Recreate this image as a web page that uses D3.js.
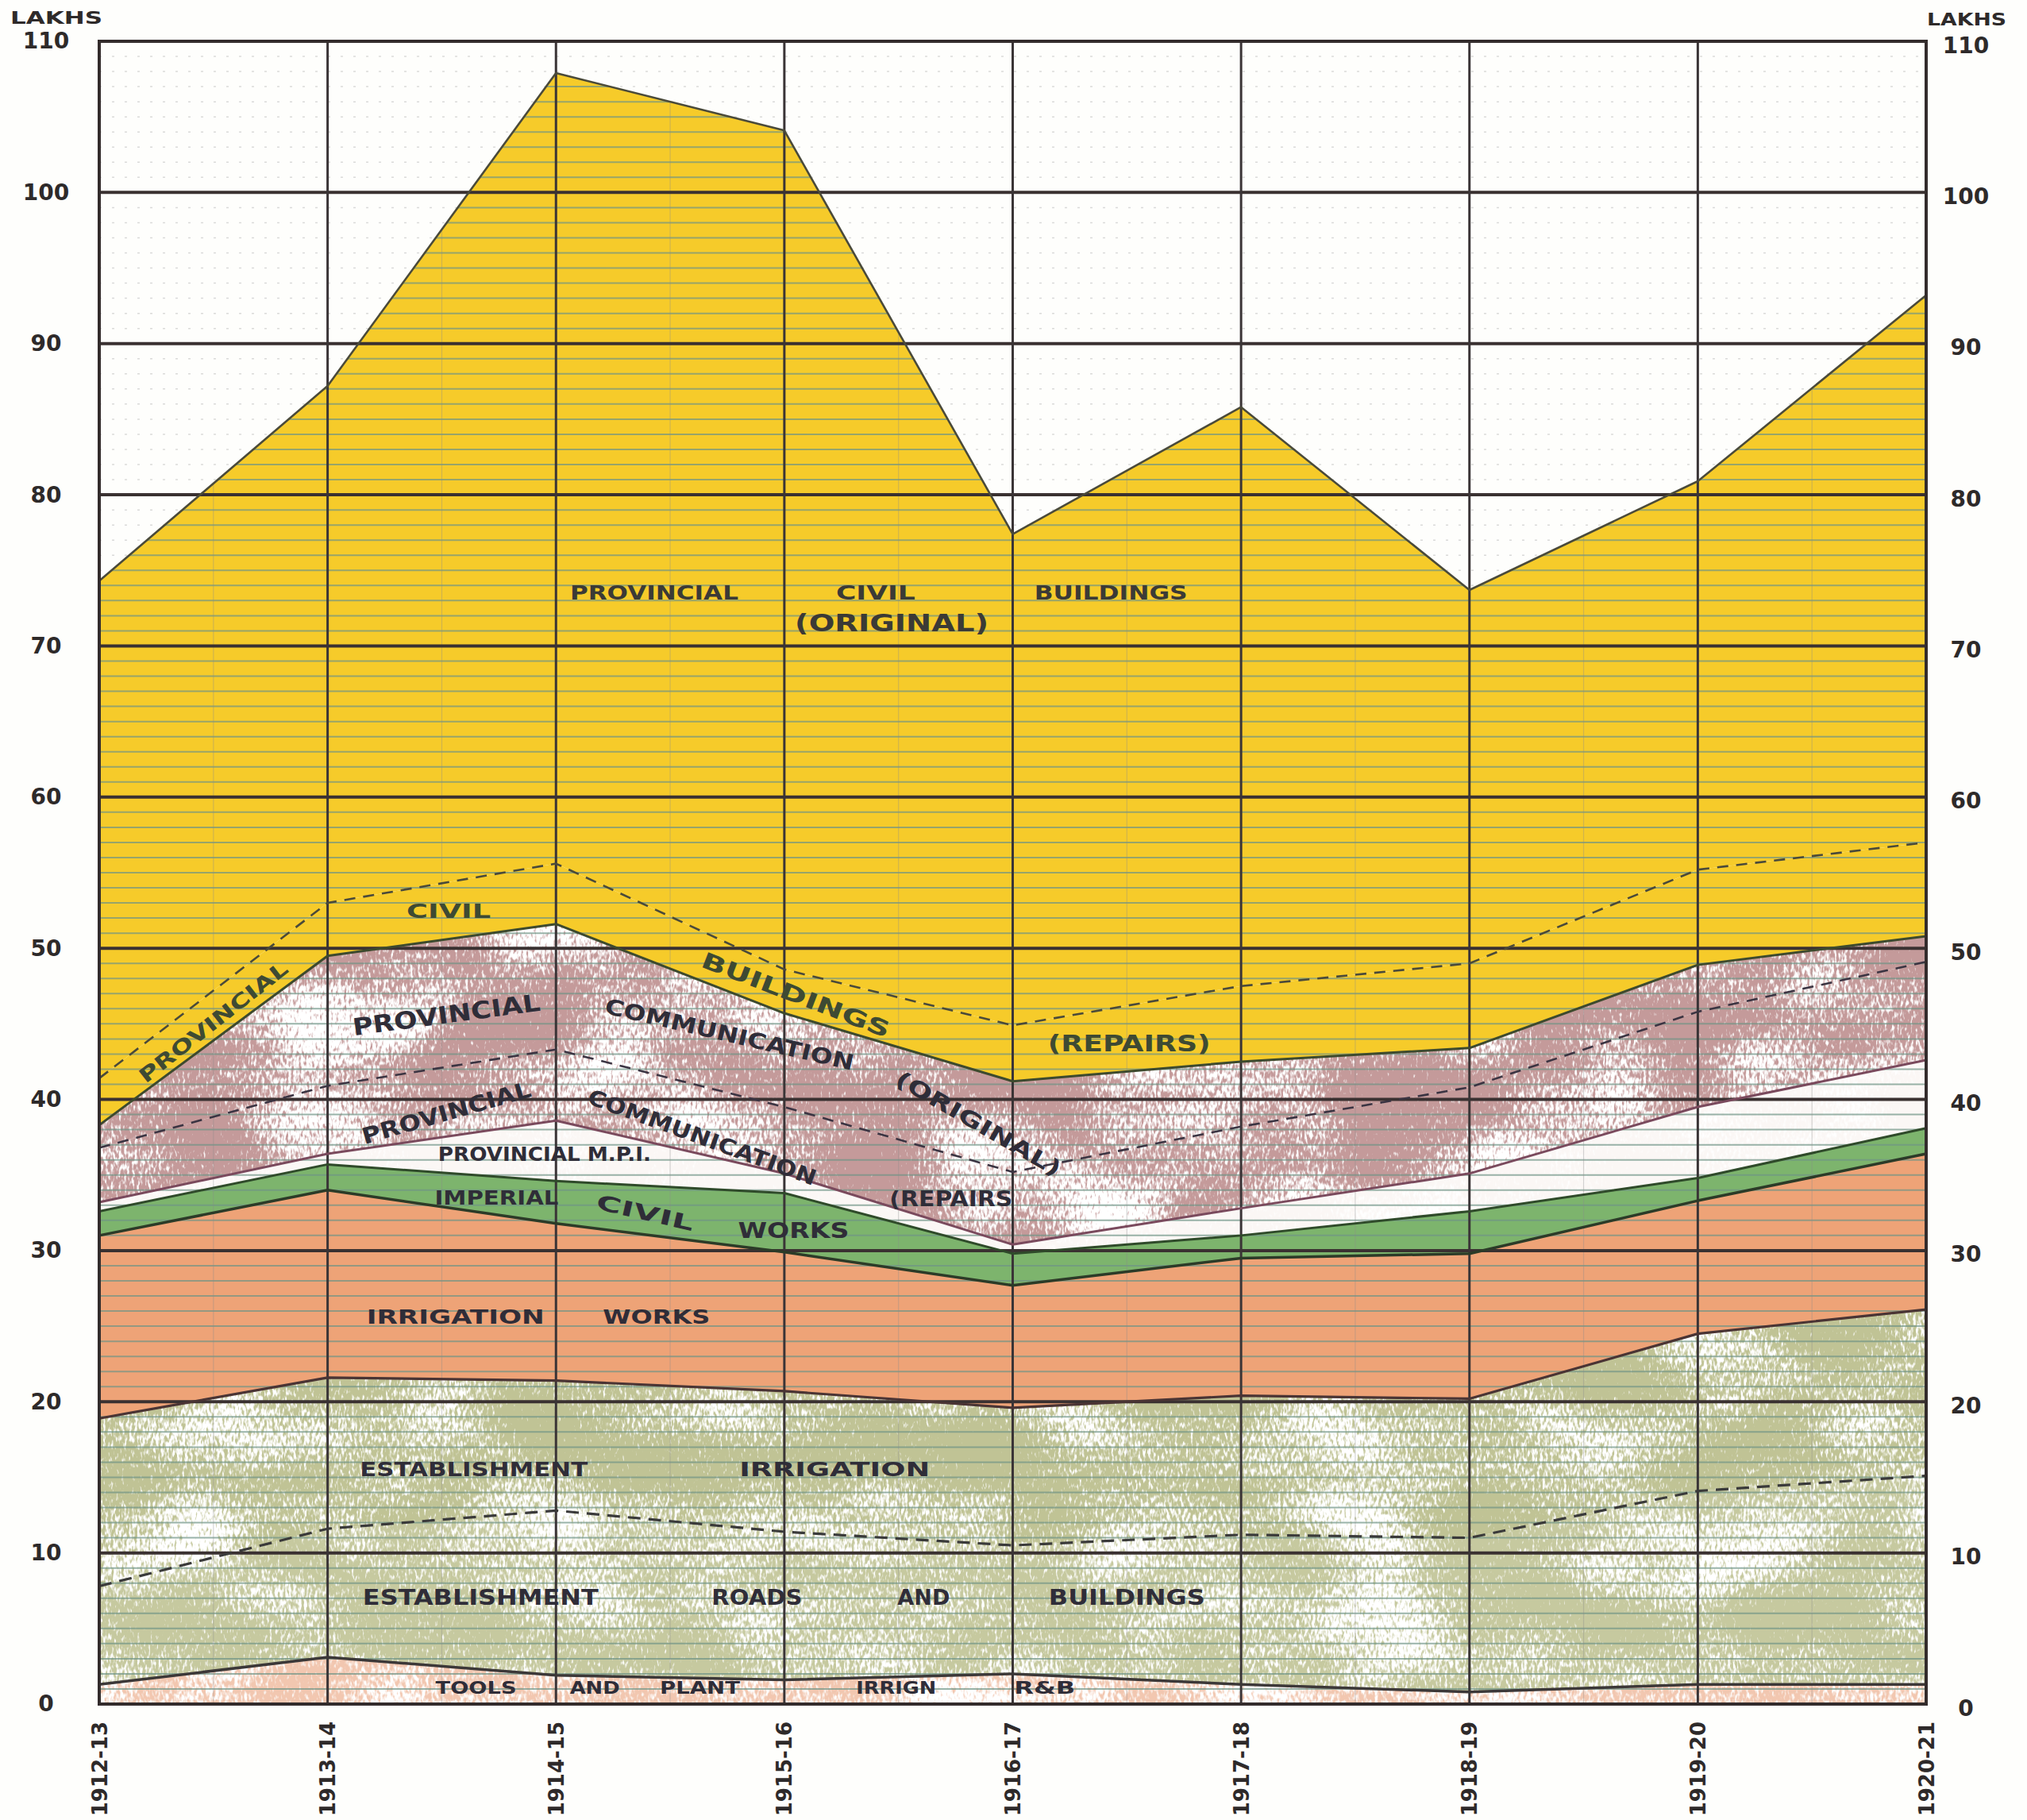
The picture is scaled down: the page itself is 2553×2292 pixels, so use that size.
<!DOCTYPE html>
<html>
<head>
<meta charset="utf-8">
<script src="https://cdn.jsdelivr.net/npm/d3@7/dist/d3.min.js"></script>
<style>
  html, body { margin: 0; padding: 0; background: #fefefc; }
  svg { display: block; }
  text { font-family: "DejaVu Sans", "Liberation Sans", sans-serif; }
</style>
</head>
<body>
<svg id="chart" width="2553" height="2292"></svg>
<script>
// ---------------- DATA (Lakhs of rupees) ----------------
const years = ["1912-13","1913-14","1914-15","1915-16","1916-17","1917-18","1918-19","1919-20","1920-21"];
const yTickValues = [0,10,20,30,40,50,60,70,80,90,100,110];

// stacked series, bottom to top
const toolsAndPlant          = [1.3, 3.1, 1.9, 1.6, 2.0, 1.3, 0.8, 1.3, 1.3];
const establishmentRB        = [6.5, 8.5, 10.9, 9.8, 8.5, 9.9, 10.2, 12.8, 13.8];
const establishmentIrrig     = [11.1, 10.0, 8.6, 9.3, 9.1, 9.2, 9.2, 10.4, 11.0];
const irrigationWorks        = [12.1, 12.4, 10.4, 9.2, 8.1, 9.1, 9.6, 8.8, 10.3];
const imperialCivilWorks     = [1.6, 1.7, 2.8, 3.9, 2.1, 1.5, 2.8, 1.5, 1.7];
const provincialMPI          = [0.6, 0.7, 4.0, 1.3, 0.6, 1.8, 2.5, 4.7, 4.5];
const provCommRepairs        = [3.6, 4.5, 4.7, 4.4, 4.8, 5.4, 5.7, 6.3, 6.5];
const provCommOriginal       = [1.5, 8.6, 8.3, 6.2, 6.0, 4.3, 2.6, 3.1, 1.7];
const provCivilBldgRepairs   = [3.1, 3.5, 4.0, 2.9, 3.7, 5.0, 5.6, 6.3, 6.2];
const provCivilBldgOriginal  = [32.9, 34.2, 52.3, 55.5, 32.5, 38.3, 24.7, 25.7, 36.2];

const seriesKeys = ["tools","estRB","estIrr","irrWorks","imperial","mpi","commRep","commOrig","civRep","civOrig"];
const seriesValues = [toolsAndPlant, establishmentRB, establishmentIrrig, irrigationWorks, imperialCivilWorks,
                      provincialMPI, provCommRepairs, provCommOriginal, provCivilBldgRepairs, provCivilBldgOriginal];

// labels: [text, year-index position, value position, angle, length, size, colour]
const labelText = [
  ["PROVINCIAL", 2.43, 73.5, 0, 212, 25, "#3b3a36"],
  ["CIVIL", 3.40, 73.5, 0, 100, 25, "#3b3a36"],
  ["BUILDINGS", 4.43, 73.5, 0, 193, 25, "#3b3a36"],
  ["(ORIGINAL)", 3.47, 71.5, 0, 244, 30, "#3b3a36"],
  ["CIVIL", 1.53, 52.4, 0, 106, 24, "#3e4a33"],
  ["PROVINCIAL", 0.50, 45.1, -38, 230, 25, "#3e4a33"],
  ["BUILDINGS", 3.05, 46.9, 21, 252, 28, "#3e4a33"],
  ["(REPAIRS)", 4.51, 43.7, 0, 205, 28, "#3e4a33"],
  ["PROVINCIAL", 1.52, 45.6, -7.7, 238, 30, "#2f2d38"],
  ["COMMUNICATION", 2.76, 44.3, 13, 321, 27, "#2f2d38"],
  ["(ORIGINAL)", 3.85, 38.4, 30, 236, 27, "#2f2d38"],
  ["PROVINCIAL", 1.52, 39.1, -16, 220, 28, "#2f2d38"],
  ["COMMUNICATION", 2.64, 37.5, 20, 304, 27, "#2f2d38"],
  ["(REPAIRS", 3.73, 33.4, 0, 155, 26, "#2f2d38"],
  ["PROVINCIAL M.P.I.", 1.95, 36.4, 0, 268, 25, "#2f2d38"],
  ["IMPERIAL", 1.74, 33.5, 0, 156, 25, "#2f2d38"],
  ["CIVIL", 2.39, 32.5, 13, 125, 26, "#2f2d38"],
  ["WORKS", 3.04, 31.3, 0, 140, 26, "#2f2d38"],
  ["IRRIGATION", 1.56, 25.6, 0, 224, 24, "#2f2d38"],
  ["WORKS", 2.44, 25.6, 0, 135, 24, "#2f2d38"],
  ["ESTABLISHMENT", 1.64, 15.5, 0, 287, 25, "#2f2d38"],
  ["IRRIGATION", 3.22, 15.5, 0, 240, 25, "#2f2d38"],
  ["ESTABLISHMENT", 1.67, 7.04, 0, 297, 26, "#2f2d38"],
  ["ROADS", 2.88, 7.04, 0, 114, 26, "#2f2d38"],
  ["AND", 3.61, 7.04, 0, 66, 26, "#2f2d38"],
  ["BUILDINGS", 4.50, 7.04, 0, 197, 26, "#2f2d38"],
  ["TOOLS", 1.65, 1.1, 0, 102, 22, "#2f2d38"],
  ["AND", 2.17, 1.1, 0, 63, 22, "#2f2d38"],
  ["PLANT", 2.63, 1.1, 0, 101, 22, "#2f2d38"],
  ["IRRIGN", 3.49, 1.1, 0, 101, 22, "#2f2d38"],
  ["R&B", 4.14, 1.1, 0, 77, 22, "#2f2d38"]
];

// ---------------- DRAWING ----------------
const W = 2553, H = 2292;
const svg = d3.select("#chart");
const defs = svg.append("defs");

const x = d3.scalePoint().domain(years).range([125, 2426]);
const xi = d3.scaleLinear().domain([0, years.length - 1]).range([125, 2426]);
const y = d3.scaleLinear().domain([0, 110]).range([2146, 52]);

const table = years.map((yr, i) => {
  const row = { year: yr };
  seriesKeys.forEach((k, j) => row[k] = seriesValues[j][i]);
  return row;
});
const stacked = d3.stack().keys(seriesKeys)(table);

const fills = {
  tools: "#f2c7b0", estRB: "#c6c99f", estIrr: "#c0c395", irrWorks: "#eea377",
  imperial: "#7db46d", mpi: "#fbf7f5", commRep: "#c49a9a", commOrig: "#c49a9a",
  civRep: "#f6cb2a", civOrig: "#f6cb2a"
};
const speckled = { tools: "spk1", estRB: "spk2", estIrr: "spk2", commRep: "spk3", commOrig: "spk3", mpi: "spk4" };

// fine mottled paper texture: mix of low and high frequency noise, thresholded to white grains
function speckle(id, loF, hiF, k, b, seed) {
  const f = defs.append("filter").attr("id", id)
    .attr("filterUnits", "userSpaceOnUse").attr("x", 0).attr("y", 0)
    .attr("width", W).attr("height", H)
    .attr("color-interpolation-filters", "sRGB");
  f.append("feTurbulence").attr("type", "fractalNoise").attr("baseFrequency", loF)
    .attr("numOctaves", 2).attr("seed", seed).attr("result", "lo0");
  f.append("feColorMatrix").attr("in", "lo0").attr("type", "matrix")
    .attr("values", "1 0 0 0 0  1 0 0 0 0  1 0 0 0 0  0 0 0 0 1").attr("result", "lo");
  f.append("feTurbulence").attr("type", "fractalNoise").attr("baseFrequency", hiF)
    .attr("numOctaves", 2).attr("seed", seed + 3).attr("result", "hi0");
  f.append("feColorMatrix").attr("in", "hi0").attr("type", "matrix")
    .attr("values", "1 0 0 0 0  1 0 0 0 0  1 0 0 0 0  0 0 0 0 1").attr("result", "hi");
  f.append("feComposite").attr("in", "lo").attr("in2", "hi").attr("operator", "arithmetic")
    .attr("k1", 0).attr("k2", 0.5).attr("k3", 0.5).attr("k4", 0).attr("result", "mix");
  f.append("feColorMatrix").attr("in", "mix").attr("type", "matrix")
    .attr("values", `0 0 0 0 1  0 0 0 0 1  0 0 0 0 1  ${k} 0 0 0 ${b}`).attr("result", "w");
  f.append("feComposite").attr("in", "w").attr("in2", "SourceGraphic").attr("operator", "in").attr("result", "wc");
  const m = f.append("feMerge");
  m.append("feMergeNode").attr("in", "SourceGraphic");
  m.append("feMergeNode").attr("in", "wc");
}
speckle("spk1", "0.006 0.01", "0.25 0.12", 7, -3.1, 4);
speckle("spk2", "0.005 0.009", "0.3 0.12", 8, -3.85, 7);
speckle("spk3", "0.006 0.009", "0.3 0.12", 8, -3.8, 11);
speckle("spk4", "0.008 0.01", "0.3 0.15", 5, -2.5, 5);

const area = d3.area()
  .x((d, i) => x(years[i]))
  .y0(d => y(d[0]))
  .y1(d => y(d[1]));

// clip for minor rulings inside coloured areas
defs.append("clipPath").attr("id", "stackClip")
  .append("path").attr("d", area(stacked[stacked.length - 1].map(d => [0, d[1]])));

// faint dotted rulings in the blank paper area
const minorVals = d3.range(1, 110).filter(v => v % 10 !== 0);
svg.append("g").selectAll("line").data(minorVals).join("line")
  .attr("x1", 125).attr("x2", 2426)
  .attr("y1", d => y(d)).attr("y2", d => y(d))
  .attr("stroke", "#9a9a9a").attr("stroke-width", 1.5)
  .attr("stroke-dasharray", "3,13").attr("opacity", 0.35);

// filled layers
svg.append("g").selectAll("path").data(stacked).join("path")
  .attr("d", area)
  .attr("fill", d => fills[d.key])
  .attr("filter", d => speckled[d.key] ? `url(#${speckled[d.key]})` : null);

// minor rulings inside coloured areas
const gMinor = svg.append("g").attr("clip-path", "url(#stackClip)");
gMinor.selectAll("line").data(minorVals).join("line")
  .attr("x1", 125).attr("x2", 2426)
  .attr("y1", d => y(d)).attr("y2", d => y(d))
  .attr("stroke", "#6f9486").attr("stroke-width", 2).attr("opacity", 0.7);
// faint half-year verticals
gMinor.selectAll("line.half").data(d3.range(0.5, 8, 1)).join("line").attr("class", "half")
  .attr("x1", d => xi(d)).attr("x2", d => xi(d))
  .attr("y1", 52).attr("y2", 2146)
  .attr("stroke", "#8a8a8a").attr("stroke-width", 1.2).attr("opacity", 0.35);

// major horizontal grid (every 10)
svg.append("g").selectAll("line").data(yTickValues).join("line")
  .attr("x1", 125).attr("x2", 2426)
  .attr("y1", d => y(d)).attr("y2", d => y(d))
  .attr("stroke", "#3a3131").attr("stroke-width", 4);

// year verticals
svg.append("g").selectAll("line").data(years).join("line")
  .attr("x1", d => x(d)).attr("x2", d => x(d))
  .attr("y1", 52).attr("y2", 2146)
  .attr("stroke", "#3a3436").attr("stroke-width", (d, i) => (i === 0 || i === years.length - 1) ? 4 : 3);

// layer boundary lines
const lineStyle = {
  tools:    { c: "#3c3838", w: 3.5, dash: null },
  estRB:    { c: "#3a3a3a", w: 3.2, dash: "16,10" },
  estIrr:   { c: "#4a3434", w: 3.2, dash: null },
  irrWorks: { c: "#2c3b28", w: 3.5, dash: null },
  imperial: { c: "#2f4a2a", w: 3, dash: null },
  mpi:      { c: "#7a4a5d", w: 3, dash: null },
  commRep:  { c: "#3b3442", w: 2.6, dash: "14,10" },
  commOrig: { c: "#3d4a2e", w: 3, dash: null },
  civRep:   { c: "#4a4a3a", w: 2.6, dash: "14,10" },
  civOrig:  { c: "#4a4a3a", w: 2.6, dash: null }
};
const topLine = d3.line().x((d, i) => x(years[i])).y(d => y(d[1]));
svg.append("g").selectAll("path").data(stacked).join("path")
  .attr("d", topLine)
  .attr("fill", "none")
  .attr("stroke", d => lineStyle[d.key].c)
  .attr("stroke-width", d => lineStyle[d.key].w)
  .attr("stroke-dasharray", d => lineStyle[d.key].dash)
  .attr("stroke-linejoin", "round");

// in-chart labels
svg.append("g").selectAll("text").data(labelText).join("text")
  .attr("transform", d => `translate(${xi(d[1])},${y(d[2])}) rotate(${d[3]})`)
  .attr("text-anchor", "middle")
  .attr("dominant-baseline", "central")
  .attr("font-size", d => d[5])
  .attr("font-weight", "bold")
  .attr("fill", d => d[6])
  .attr("textLength", d => d[4])
  .attr("lengthAdjust", "spacingAndGlyphs")
  .text(d => d[0]);

// axes
const axisFont = g => g.selectAll("text")
  .attr("font-size", 28).attr("font-weight", "bold").attr("fill", "#2e2a2a")
  .attr("font-family", "DejaVu Sans, sans-serif");

const gl = svg.append("g").attr("transform", "translate(125,0)")
  .call(d3.axisLeft(y).tickValues(yTickValues).tickSize(0));
gl.select(".domain").remove();
gl.call(axisFont);
gl.selectAll("text").attr("x", -67).attr("text-anchor", "middle");

const gr = svg.append("g").attr("transform", "translate(2426,0)")
  .call(d3.axisRight(y).tickValues(yTickValues).tickSize(0));
gr.select(".domain").remove();
gr.call(axisFont);
gr.selectAll("text").attr("x", 50).attr("text-anchor", "middle").attr("dy", "0.5em");

const gb = svg.append("g").attr("transform", "translate(0,2146)")
  .call(d3.axisBottom(x).tickSize(0));
gb.select(".domain").remove();
gb.call(axisFont);
gb.selectAll("text")
  .attr("font-size", 26)
  .attr("transform", "rotate(-90)")
  .attr("x", -22).attr("y", 0).attr("dy", "0.35em")
  .attr("text-anchor", "end");

// frame
svg.append("rect").attr("x", 125).attr("y", 52).attr("width", 2426 - 125).attr("height", 2146 - 52)
  .attr("fill", "none").attr("stroke", "#332c2c").attr("stroke-width", 4);

// unit captions
svg.append("text").attr("x", 13).attr("y", 30).attr("font-size", 22).attr("font-weight", "bold")
  .attr("fill", "#2e2a2a").attr("textLength", 116).attr("lengthAdjust", "spacingAndGlyphs").text("LAKHS");
svg.append("text").attr("x", 2427).attr("y", 32).attr("font-size", 22).attr("font-weight", "bold")
  .attr("fill", "#2e2a2a").attr("textLength", 100).attr("lengthAdjust", "spacingAndGlyphs").text("LAKHS");
</script>
</body>
</html>
